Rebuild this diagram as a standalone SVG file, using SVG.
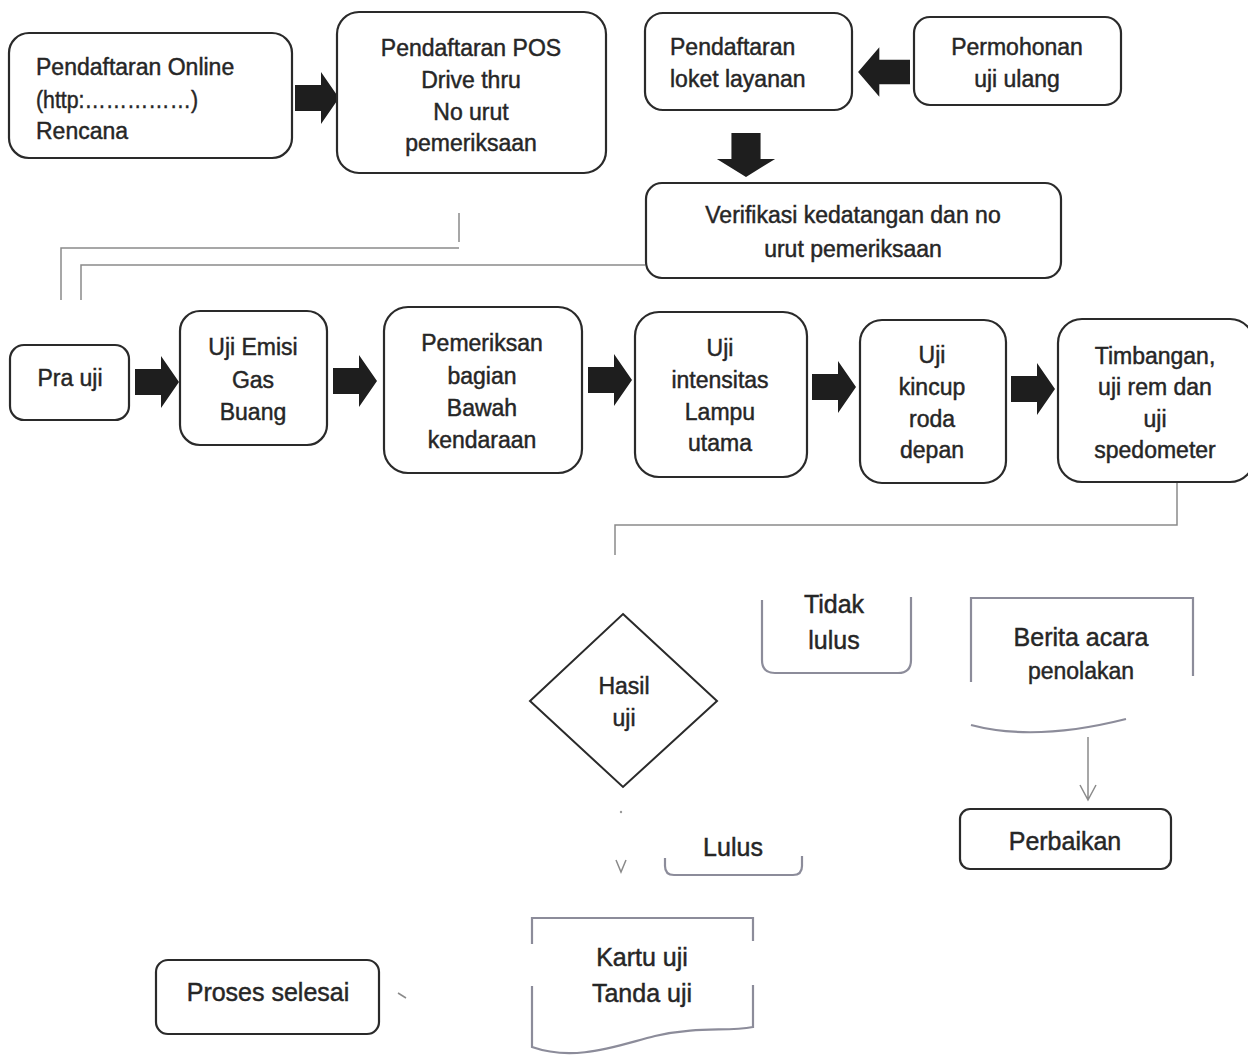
<svg xmlns="http://www.w3.org/2000/svg" width="1248" height="1056" viewBox="0 0 1248 1056">
<defs>
<style>
.box{fill:#fff;stroke:#2a2a2a;stroke-width:2.2}
.t{font-family:"Liberation Sans",Arial,sans-serif;font-size:23px;fill:#262626;stroke:#262626;stroke-width:0.45}
.c{text-anchor:middle}
.big{font-size:25px}
.ln{fill:none;stroke:#8a8a8a;stroke-width:1.5}
.soft{fill:none;stroke:#8c8c9a;stroke-width:2.2}
.blk{fill:#1e1e1e}
</style>
<path id="rarrow" d="M0,-13 H26 V-26 L44,0 L26,26 V13 H0 Z"/>
</defs>
<rect width="1248" height="1056" fill="#fff"/>

<g id="connectors">
<use href="#rarrow" class="blk" transform="translate(295,98)"/>
<use href="#rarrow" class="blk" transform="translate(910,72) scale(-1.18,0.95)"/>
<use href="#rarrow" class="blk" transform="translate(746,133) rotate(90) scale(1,1.12)"/>
<use href="#rarrow" class="blk" transform="translate(135,382)"/>
<use href="#rarrow" class="blk" transform="translate(333,381)"/>
<use href="#rarrow" class="blk" transform="translate(588,380)"/>
<use href="#rarrow" class="blk" transform="translate(812,387)"/>
<use href="#rarrow" class="blk" transform="translate(1011,389)"/>
<path class="ln" d="M459,213 V242 M459,248 H61 V300"/>
<path class="ln" d="M645,265 H81 V300"/>
<path class="ln" d="M1177,483 V525 H615 V555"/>
<path class="ln" d="M1088,737 V800 M1080,785 L1088,800 L1096,785"/>
<path class="ln" d="M616,860 L621,872 L626,860"/>
<circle cx="621" cy="812" r="1.2" fill="#999"/>
<path class="ln" d="M398,993 L406,998" stroke="#aaa"/>
</g>

<g id="n-online">
<rect class="box" x="9" y="33" width="283" height="125" rx="20"/>
<text class="t" x="36" y="75">Pendaftaran Online</text>
<text class="t" x="36" y="108" textLength="162" lengthAdjust="spacingAndGlyphs">(http:……………)</text>
<text class="t" x="36" y="139">Rencana</text>
</g>

<g id="n-pos">
<rect class="box" x="337" y="12" width="269" height="161" rx="22"/>
<text class="t c" x="471" y="56">Pendaftaran POS</text>
<text class="t c" x="471" y="88">Drive thru</text>
<text class="t c" x="471" y="120">No urut</text>
<text class="t c" x="471" y="151">pemeriksaan</text>
</g>

<g id="n-loket">
<rect class="box" x="645" y="13" width="207" height="97" rx="18"/>
<text class="t" x="670" y="55">Pendaftaran</text>
<text class="t" x="670" y="87">loket layanan</text>
</g>

<g id="n-ulang">
<rect class="box" x="914" y="17" width="207" height="88" rx="16"/>
<text class="t c" x="1017" y="55">Permohonan</text>
<text class="t c" x="1017" y="87">uji ulang</text>
</g>

<g id="n-verifikasi">
<rect class="box" x="646" y="183" width="415" height="95" rx="16"/>
<text class="t c" x="853" y="223">Verifikasi kedatangan dan no</text>
<text class="t c" x="853" y="257">urut pemeriksaan</text>
</g>

<g id="n-prauji">
<rect class="box" x="10" y="345" width="119" height="75" rx="14"/>
<text class="t c" x="70" y="386">Pra uji</text>
</g>

<g id="n-emisi">
<rect class="box" x="180" y="311" width="147" height="134" rx="20"/>
<text class="t c" x="253" y="355">Uji Emisi</text>
<text class="t c" x="253" y="388">Gas</text>
<text class="t c" x="253" y="420">Buang</text>
</g>

<g id="n-bawah">
<rect class="box" x="384" y="307" width="198" height="166" rx="24"/>
<text class="t c" x="482" y="351">Pemeriksan</text>
<text class="t c" x="482" y="384">bagian</text>
<text class="t c" x="482" y="416">Bawah</text>
<text class="t c" x="482" y="448">kendaraan</text>
</g>

<g id="n-lampu">
<rect class="box" x="635" y="312" width="172" height="165" rx="24"/>
<text class="t c" x="720" y="356">Uji</text>
<text class="t c" x="720" y="388">intensitas</text>
<text class="t c" x="720" y="420">Lampu</text>
<text class="t c" x="720" y="451">utama</text>
</g>

<g id="n-kincup">
<rect class="box" x="860" y="320" width="146" height="163" rx="22"/>
<text class="t c" x="932" y="363">Uji</text>
<text class="t c" x="932" y="395">kincup</text>
<text class="t c" x="932" y="427">roda</text>
<text class="t c" x="932" y="458">depan</text>
</g>

<g id="n-timbangan">
<rect class="box" x="1058" y="319" width="196" height="163" rx="24"/>
<text class="t c" x="1155" y="364">Timbangan,</text>
<text class="t c" x="1155" y="395">uji rem dan</text>
<text class="t c" x="1155" y="427">uji</text>
<text class="t c" x="1155" y="458">spedometer</text>
</g>

<g id="n-hasil">
<polygon points="623,614 717,701 623,787 530,701" fill="#fff" stroke="#2a2a2a" stroke-width="2"/>
<text class="t c" x="624" y="694" font-size="22">Hasil</text>
<text class="t c" x="624" y="726" font-size="22">uji</text>
</g>

<g id="n-tidak">
<path class="soft" d="M762,600 V660 Q762,673 775,673 H898 Q911,673 911,660 V597"/>
<text class="t c big" x="834" y="613">Tidak</text>
<text class="t c big" x="834" y="649">lulus</text>
</g>

<g id="n-berita">
<path class="soft" d="M971,682 V598 H1193 V676"/>
<path class="soft" d="M971,725 Q1035,742 1126,719"/>
<text class="t c big" x="1081" y="646">Berita acara</text>
<text class="t c" x="1081" y="679" font-size="21">penolakan</text>
</g>

<g id="n-perbaikan">
<rect class="box" x="960" y="809" width="211" height="60" rx="10"/>
<text class="t c big" x="1065" y="850">Perbaikan</text>
</g>

<g id="n-lulus">
<path class="soft" d="M665,858 V866 Q665,875 674,875 H793 Q802,875 802,866 V856"/>
<text class="t c big" x="733" y="856">Lulus</text>
</g>

<g id="n-kartu">
<path class="soft" d="M532,944 V918 H753 V941"/>
<path class="soft" d="M532,986 V1047 C575,1062 615,1046 655,1036 C700,1026 725,1032 753,1027 V985"/>
<text class="t c big" x="642" y="966">Kartu uji</text>
<text class="t c big" x="642" y="1002">Tanda uji</text>
</g>

<g id="n-selesai">
<rect class="box" x="156" y="960" width="223" height="74" rx="12"/>
<text class="t c big" x="268" y="1001">Proses selesai</text>
</g>
</svg>
